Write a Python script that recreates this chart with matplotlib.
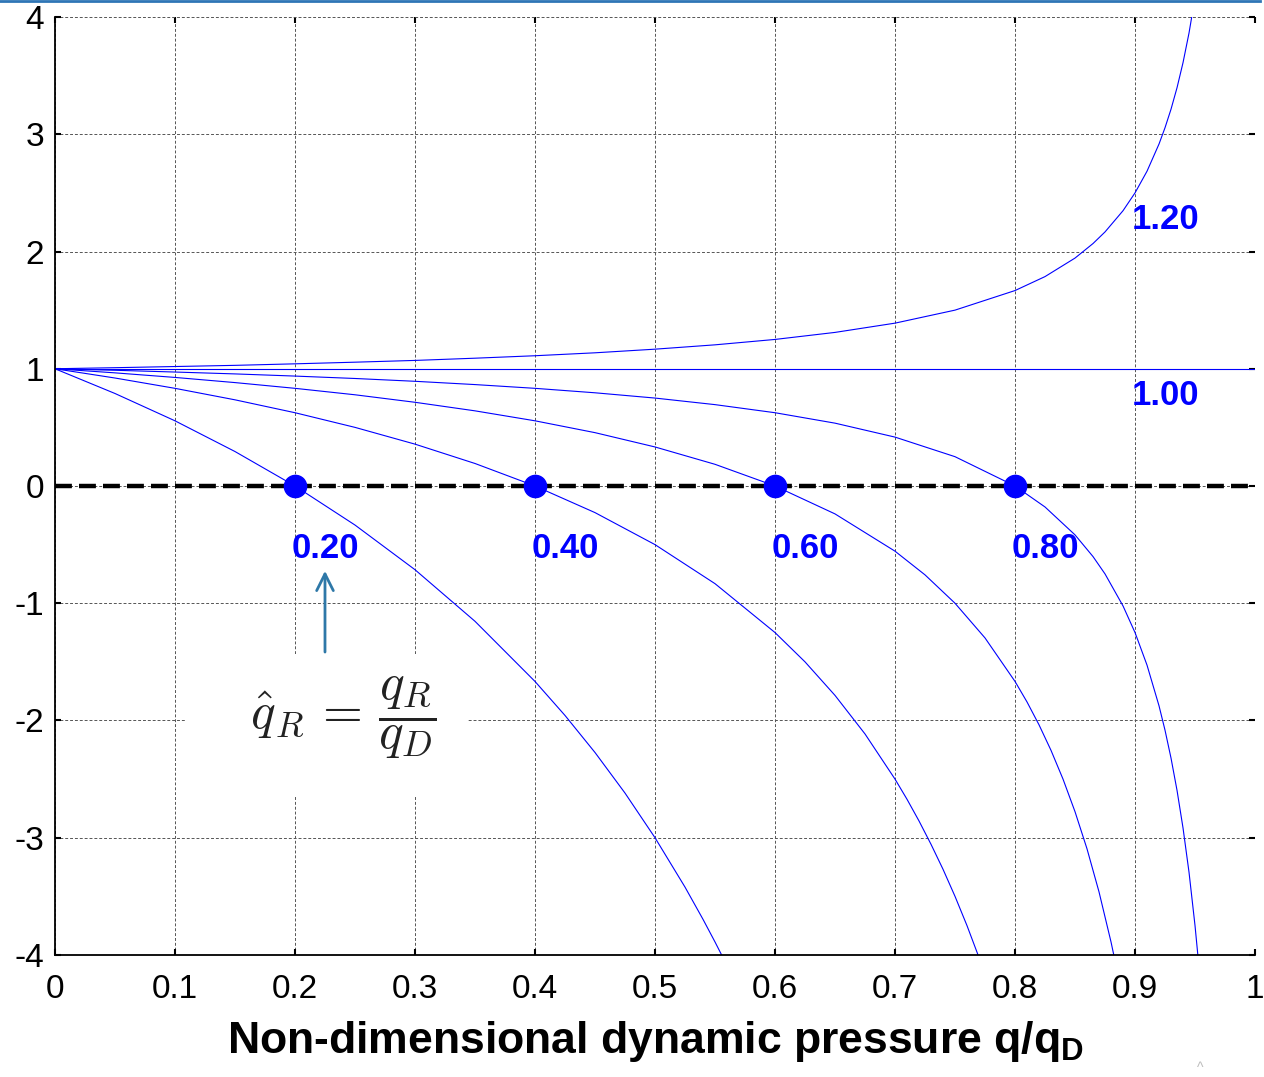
import numpy as np
import matplotlib
matplotlib.use("Agg")
import matplotlib.pyplot as plt
from matplotlib.lines import Line2D

plt.rcParams['font.family'] = ['Liberation Sans', 'DejaVu Sans']
plt.rcParams['axes.unicode_minus'] = False
plt.rcParams['mathtext.fontset'] = 'custom'
plt.rcParams['mathtext.bf'] = 'Liberation Sans:bold'
plt.rcParams['mathtext.rm'] = 'Liberation Sans'

# curves, one per design ratio q_R/q_D
x_020 = [0, 0.05, 0.1, 0.15, 0.2, 0.25, 0.3, 0.35, 0.4, 0.425, 0.45, 0.475, 0.5, 0.525, 0.54, 0.55, 0.56]
y_020 = [1, 0.789, 0.556, 0.294, 0, -0.333, -0.714, -1.154, -1.667, -1.957, -2.273, -2.619, -3.0, -3.421,
         -3.696, -3.889, -4.09]

x_040 = [0, 0.05, 0.1, 0.15, 0.2, 0.25, 0.3, 0.35, 0.4, 0.45, 0.5, 0.55, 0.6, 0.625, 0.65, 0.675,
         0.7, 0.71, 0.72, 0.73, 0.74, 0.75, 0.76, 0.77]
y_040 = [1, 0.921, 0.833, 0.735, 0.625, 0.5, 0.357, 0.192, 0, -0.227, -0.5, -0.833, -1.25, -1.5, -1.786, -2.115,
         -2.5, -2.672, -2.857, -3.056, -3.269, -3.5, -3.75, -4.022]

x_060 = [0, 0.05, 0.1, 0.15, 0.2, 0.25, 0.3, 0.35, 0.4, 0.45, 0.5, 0.55, 0.6, 0.65, 0.7, 0.725, 0.75, 0.775,
         0.8, 0.81, 0.82, 0.83, 0.84, 0.85, 0.86, 0.87, 0.88, 0.885]
y_060 = [1, 0.965, 0.926, 0.882, 0.833, 0.778, 0.714, 0.641, 0.556, 0.455, 0.333, 0.185, 0, -0.238, -0.556, -0.758,
         -1.0, -1.296, -1.667, -1.842, -2.037, -2.255, -2.5, -2.778, -3.095, -3.462, -3.889, -4.13]

x_080 = [0, 0.05, 0.1, 0.15, 0.2, 0.25, 0.3, 0.35, 0.4, 0.45, 0.5, 0.55, 0.6, 0.65, 0.7, 0.75, 0.8,
         0.825, 0.85, 0.865, 0.875, 0.89, 0.9, 0.91, 0.92, 0.925, 0.93, 0.935, 0.94, 0.945, 0.95, 0.953]
y_080 = [1, 0.987, 0.972, 0.956, 0.9375, 0.917, 0.893, 0.865, 0.833, 0.795, 0.75, 0.694, 0.625, 0.536, 0.417, 0.25, 0,
         -0.179, -0.417, -0.602, -0.75, -1.023, -1.25, -1.528, -1.875, -2.083, -2.321, -2.596, -2.917, -3.295,
         -3.75, -4.07]

x_100 = [0, 1]
y_100 = [1, 1]

x_120 = [0, 0.05, 0.1, 0.15, 0.2, 0.25, 0.3, 0.35, 0.4, 0.45, 0.5, 0.55, 0.6, 0.65, 0.7, 0.75, 0.8,
         0.825, 0.85, 0.865, 0.875, 0.89, 0.9, 0.91, 0.92, 0.925, 0.93, 0.935, 0.94, 0.945, 0.95]
y_120 = [1, 1.009, 1.019, 1.029, 1.042, 1.056, 1.071, 1.090, 1.111, 1.136, 1.167, 1.204, 1.25, 1.310, 1.389, 1.5, 1.667,
         1.786, 1.944, 2.068, 2.167, 2.348, 2.5, 2.685, 2.917, 3.056, 3.214, 3.397, 3.611, 3.864, 4.167]

curves = [(x_020, y_020), (x_040, y_040), (x_060, y_060), (x_080, y_080), (x_100, y_100), (x_120, y_120)]

design_pts = [0.2, 0.4, 0.6, 0.8]
pt_labels = ['0.20', '0.40', '0.60', '0.80']
xticks = [0, 0.1, 0.2, 0.3, 0.4, 0.5, 0.6, 0.7, 0.8, 0.9, 1]
xticklabels = ['0', '0.1', '0.2', '0.3', '0.4', '0.5', '0.6', '0.7', '0.8', '0.9', '1']
yticks = [-4, -3, -2, -1, 0, 1, 2, 3, 4]

blue = '#0000ff'

fig = plt.figure(figsize=(12.64, 10.77), dpi=100)
ax = fig.add_axes([0.0435, 0.1133, 0.9494, 0.8709])

for xs, ys in curves:
    ax.plot(xs, ys, color=blue, lw=0.8)

# zero line with design points
ax.axhline(0, color='black', lw=3.2, dashes=(3.8, 1.6), zorder=4)
ax.plot(design_pts, [0] * len(design_pts), 'o', color=blue, ms=16, zorder=5)

for xp, lab in zip(design_pts, pt_labels):
    ax.text(xp - 0.003, -0.53, lab, color=blue, fontsize=25, fontweight='bold', ha='left', va='center')
ax.text(0.897, 2.27, '1.20', color=blue, fontsize=25, fontweight='bold', ha='left', va='center')
ax.text(0.897, 0.77, '1.00', color=blue, fontsize=25, fontweight='bold', ha='left', va='center')

ax.set_xlim(0, 1)
ax.set_ylim(-4, 4)
ax.set_xticks(xticks)
ax.set_xticklabels(xticklabels)
ax.set_yticks(yticks)
ax.set_yticklabels([str(v) for v in yticks])
ax.tick_params(direction='in', length=4, width=1.5, labelsize=24, top=True, right=True)
ax.tick_params(axis='y', pad=8)
ax.tick_params(axis='x', pad=14)
ax.grid(True, color='#555555', lw=0.7, ls=(0, (3, 2)))
for s in ['top', 'right']:
    ax.spines[s].set_visible(False)
for s in ['left', 'bottom']:
    ax.spines[s].set_linewidth(1.3)

ax.set_xlabel(r'Non-dimensional dynamic pressure q/q$_\mathbf{D}$', fontsize=32, fontweight='bold',
              labelpad=10, math_fontfamily='custom')

# formula box with arrow
ax.add_patch(plt.Rectangle((0.108, -2.65), 0.235, 1.22, facecolor='white', edgecolor='none', zorder=3))
ax.text(0.240, -1.98, r'$\hat{q}_R \,=\, \dfrac{q_R}{q_D}$', fontsize=37, color='#222222',
        ha='center', va='center', math_fontfamily='cm', zorder=6)
ax.annotate('', xy=(0.225, -0.7), xytext=(0.225, -1.44),
            arrowprops=dict(arrowstyle='->', color='#2e78a8', lw=2, mutation_scale=30), zorder=6)

# slide header line and stray caret
fig.add_artist(Line2D([0, 0.997], [0.999, 0.999], color='#2e75b6', lw=2, transform=fig.transFigure))
fig.text(1200 / 1264, 1 - 1068 / 1077, '^', color='#bbbbbb', fontsize=10, ha='center', va='center')

fig.savefig('out.png', dpi=100)
